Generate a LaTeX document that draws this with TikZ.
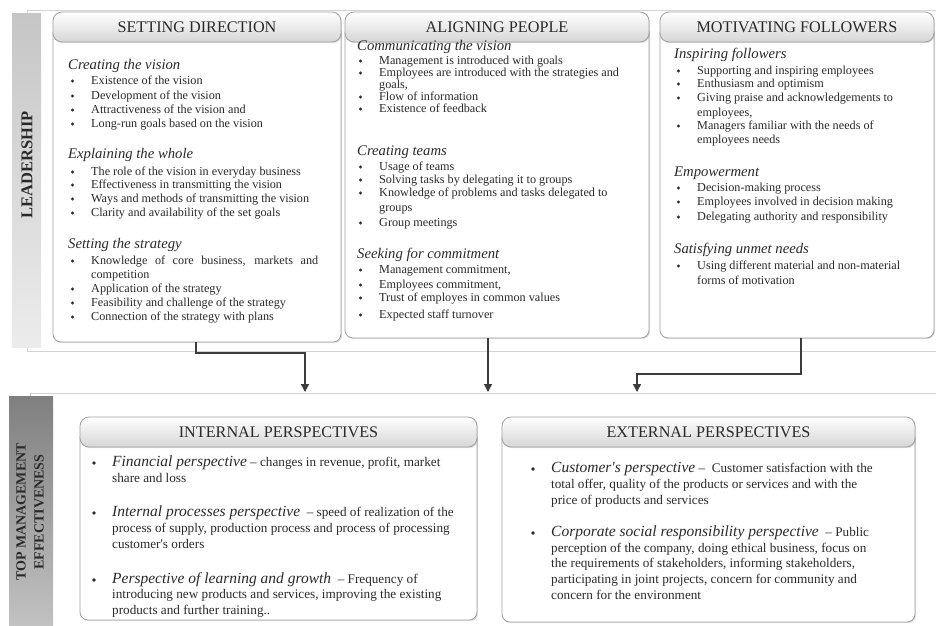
\documentclass[tikz,border=0pt]{standalone}
\usepackage{fontspec}
\setmainfont{Liberation Serif}
\usetikzlibrary{arrows.meta,shadows}
\definecolor{txt}{HTML}{2A2A2A}
\definecolor{frm}{HTML}{D4D4D4}
\definecolor{bord}{HTML}{A0A0A0}
\definecolor{arr}{HTML}{3C3C3C}
\tikzset{
  heading/.style={anchor=west, inner sep=0pt, font=\itshape\fontsize{14.7}{16}\selectfont, text=txt, text height=10pt, text depth=3pt},
  item/.style={anchor=west, inner sep=0pt, font=\fontsize{12.2}{14}\selectfont, text=txt, text height=8.5pt, text depth=2.5pt},
  itemb/.style={item},
  bitem/.style={anchor=west, inner sep=0pt, font=\fontsize{13.2}{15}\selectfont, text=txt, text height=9pt, text depth=2.5pt},
  body/.style={draw=bord, fill=white, line width=0.8pt, rounded corners=8pt, inner sep=0pt,
    drop shadow={shadow xshift=1.2pt, shadow yshift=-1.2pt, opacity=0.25}},
  hdr/.style={draw=bord, line width=0.8pt, rounded corners=9pt, top color=white, bottom color=gray!32,
    inner sep=0pt, text=txt, font=\fontsize{16.2}{18}\selectfont,
    drop shadow={shadow xshift=1pt, shadow yshift=-1.2pt, opacity=0.25}},
  connector/.style={draw=arr, line width=1.3pt, -{Triangle[width=8pt,length=8pt]}},
  frame/.style={draw=frm, line width=0.9pt}
}
\newcommand\Em[1]{{\fontsize{15.5}{16}\itshape #1}}
\newcommand\Bul[4]{\fill[txt] (#2-18.5,#3) circle (1.7pt); \node[item] (#1) at (#2,#3) {#4};}
\newcommand\BulB[4]{\fill[txt] (#2-18.5,#3) circle (1.7pt); \node[itemb] (#1) at (#2,#3) {#4};}
\newcommand\Cnt[4]{\node[item] (#1) at (#2,#3) {#4};}
\newcommand\CntB[4]{\node[itemb] (#1) at (#2,#3) {#4};}
\newcommand\BBul[4]{\fill[txt] (#2-18,#3) circle (1.8pt); \node[bitem] (#1) at (#2,#3) {#4};}
\newcommand\BCnt[4]{\node[bitem] (#1) at (#2,#3) {#4};}
\begin{document}
\begin{tikzpicture}[x=1pt,y=-1pt]
\useasboundingbox (0,0) rectangle (936,625);
\fill[white] (0,0) rectangle (936,625);
% frames
\draw[frame] (27,10) -- (940,10);
\draw[frame] (27,10) -- (27,351) -- (940,351);
\draw[frame] (30,630) -- (30,393) -- (940,393);
% side bands
\shade[top color=gray!45, bottom color=gray!15] (12,13) rectangle (41,347);
\node[rotate=90, text=txt, font=\bfseries\fontsize{16.5}{19}\selectfont] (lead) at (27,165) {LEADERSHIP};
\shade[top color=gray!100, bottom color=gray!48] (9,396) rectangle (53,626);
\node[rotate=90, text=txt, align=center, font=\bfseries\fontsize{14}{18}\selectfont] (tme) at (30,512) {TOP MANAGEMENT\\EFFECTIVENESS};
% top boxes
\node[body, minimum width=288pt, minimum height=317pt] (b1) at (197,183.5) {};
\node[body, minimum width=304pt, minimum height=313pt] (b2) at (497,181.5) {};
\node[body, minimum width=274pt, minimum height=313pt] (b3) at (797,181.5) {};
\node[hdr, minimum width=288pt, minimum height=30pt] (h1) at (197,27) {SETTING DIRECTION};
\node[hdr, minimum width=304pt, minimum height=30pt] (h2) at (497,27) {ALIGNING PEOPLE};
\node[hdr, minimum width=274pt, minimum height=30pt] (h3) at (797,27) {MOTIVATING FOLLOWERS};
% bottom boxes
\node[body, minimum width=397pt, minimum height=190pt] (b4) at (278.5,525) {};
\node[body, minimum width=413pt, minimum height=192pt] (b5) at (708.5,526) {};
\node[hdr, minimum width=397pt, minimum height=30pt] (h4) at (278.5,432) {INTERNAL PERSPECTIVES};
\node[hdr, minimum width=413pt, minimum height=30pt] (h5) at (708.5,432) {EXTERNAL PERSPECTIVES};
% box 1 text
\node[heading] (s1h1) at (68,66) {Creating the vision};
\Bul{s1a}{91}{81}{Existence of the vision}
\Bul{s1b}{91}{96}{Development of the vision}
\Bul{s1c}{91}{110}{Attractiveness of the vision and}
\Bul{s1d}{91}{124}{Long-run goals based on the vision}
\node[heading] (s1h2) at (68,155) {Explaining the whole};
\Bul{s1e}{91}{172}{The role of the vision in everyday business}
\Bul{s1f}{91}{185}{Effectiveness in transmitting the vision}
\Bul{s1g}{91}{199}{Ways and methods of transmitting the vision}
\Bul{s1i}{91}{213}{Clarity and availability of the set goals}
\node[heading] (s1h3) at (68,245) {Setting the strategy};
\Bul{s1j}{91}{261}{\makebox[227pt][s]{Knowledge of core business, markets and}}
\Cnt{s1k}{91}{275}{competition}
\Bul{s1l}{91}{289}{Application of the strategy}
\Bul{s1m}{91}{303}{Feasibility and challenge of the strategy}
\Bul{s1n}{91}{317}{Connection of the strategy with plans}
% box 2 text
\node[heading] (s2h1) at (357,47) {Communicating the vision};
\BulB{s2a}{379}{61}{Management is introduced with goals}
\BulB{s2b}{379}{73}{Employees are introduced with the strategies and}
\CntB{s2c}{379}{85}{goals,}
\BulB{s2d}{379}{97}{Flow of information}
\BulB{s2e}{379}{109}{Existence of feedback}
\node[heading] (s2h2) at (357,152) {Creating teams};
\BulB{s2f}{379}{167}{Usage of teams}
\BulB{s2g}{379}{180}{Solving tasks by delegating it to groups}
\BulB{s2i}{379}{193}{Knowledge of problems and tasks delegated to}
\CntB{s2j}{379}{208}{groups}
\BulB{s2k}{379}{223}{Group meetings}
\node[heading] (s2h3) at (357,255) {Seeking for commitment};
\BulB{s2l}{379}{270}{Management commitment,}
\BulB{s2m}{379}{285}{Employees commitment,}
\BulB{s2n}{379}{298}{Trust of employes in common values}
\BulB{s2o}{379}{315}{Expected staff turnover}
% box 3 text
\node[heading] (s3h1) at (674,55) {Inspiring followers};
\Bul{s3a}{697}{71}{Supporting and inspiring employees}
\Bul{s3b}{697}{84}{Enthusiasm and optimism}
\Bul{s3c}{697}{98}{Giving praise and acknowledgements to}
\Cnt{s3d}{697}{113}{employees,}
\Bul{s3e}{697}{126}{Managers familiar with the needs of}
\Cnt{s3f}{697}{140}{employees needs}
\node[heading] (s3h2) at (674,173) {Empowerment};
\Bul{s3g}{697}{188}{Decision-making process}
\Bul{s3i}{697}{202}{Employees involved in decision making}
\Bul{s3j}{697}{217}{Delegating authority and responsibility}
\node[heading] (s3h3) at (674,250) {Satisfying unmet needs};
\Bul{s3k}{697}{266}{Using different material and non-material}
\Cnt{s3l}{697}{281}{forms of motivation}
% internal text
\BBul{i1a}{112}{463}{\Em{Financial perspective} -- changes in revenue, profit, market}
\BCnt{i1b}{112}{479}{share and loss}
\BBul{i2a}{112}{513}{\Em{Internal processes perspective}\ \ -- speed of realization of the}
\BCnt{i2b}{112}{529}{process of supply, production process and process of processing}
\BCnt{i2c}{112}{545}{customer\textquotesingle s orders}
\BBul{i3a}{112}{580}{\Em{Perspective of learning and growth}\ \ -- Frequency of}
\BCnt{i3b}{112}{595}{introducing new products and services, improving the existing}
\BCnt{i3c}{112}{611}{products and further training..}
% external text
\BBul{e1a}{551}{469}{\Em{Customer\textquotesingle s perspective} --\ \ Customer satisfaction with the}
\BCnt{e1b}{551}{485}{total offer, quality of the products or services and with the}
\BCnt{e1c}{551}{501}{price of products and services}
\BBul{e2a}{551}{533}{\Em{Corporate social responsibility perspective}\ \ -- Public}
\BCnt{e2b}{551}{549}{perception of the company, doing ethical business, focus on}
\BCnt{e2c}{551}{564}{the requirements of stakeholders, informing stakeholders,}
\BCnt{e2d}{551}{580}{participating in joint projects, concern for community and}
\BCnt{e2e}{551}{596}{concern for the environment}
% connectors
\coordinate (k1) at (196,353);
\coordinate (t1) at (305,392);
\coordinate (t2) at (488,392);
\coordinate (k3) at (801,374);
\coordinate (t3) at (637,392);
\draw[connector] (b1.south -| k1) -- (k1) -| (t1);
\draw[connector] (b2.south -| t2) -- (t2);
\draw[connector] (b3.south -| k3) -- (k3) -| (t3);
\end{tikzpicture}
\end{document}
